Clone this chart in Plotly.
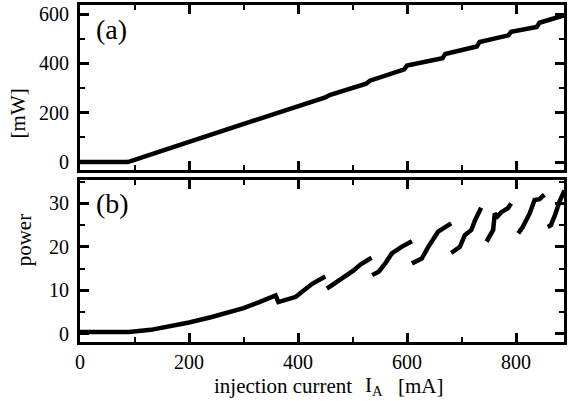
import plotly.graph_objects as go
from plotly.subplots import make_subplots

# ---- data ----
# (a) output power [mW] vs injection current [mA]
top_current = [0, 88, 150, 219, 300, 360, 450, 458, 525, 532, 595, 600, 665, 670,
               728, 733, 786, 791, 838, 843, 890]
top_power = [0, 0, 46, 97, 156, 198, 262, 272, 318, 330, 376, 392, 421, 438,
             469, 487, 514, 528, 548, 565, 596]

# (b) power vs injection current, branches separated by mode hops
seg1_x = [0, 90, 130, 170, 200, 240, 274, 300, 329, 359, 364, 396, 426, 450]
seg1_y = [0.4, 0.4, 0.9, 1.8, 2.6, 3.8, 5.0, 5.9, 7.3, 8.8, 7.3, 8.5, 11.5, 13.2]
seg2_x = [453, 470, 485, 495, 502, 515, 535]
seg2_y = [10.4, 11.8, 13.3, 14.0, 14.6, 16.0, 17.5]
seg3_x = [536, 548, 560, 572, 590, 609]
seg3_y = [13.5, 14.3, 16.2, 18.5, 20.0, 21.3]
seg4_x = [609, 627, 639, 657, 681]
seg4_y = [16.2, 17.3, 20.0, 23.5, 25.4]
seg5_x = [681, 697, 706, 718, 725, 731, 736]
seg5_y = [18.6, 20.0, 22.7, 23.9, 26.2, 28.0, 29.0]
seg6_x = [746, 752, 758, 761, 766, 773, 785, 791]
seg6_y = [21.2, 22.5, 23.9, 27.7, 27.0, 28.0, 28.9, 30.0]
seg7_x = [804, 812, 825, 834, 843, 852]
seg7_y = [23.1, 24.5, 27.7, 30.8, 31.0, 32.0]
seg8_x = [858, 864, 872, 880, 889]
seg8_y = [24.6, 25.0, 27.5, 30.5, 33.0]

b_segments_x = [seg1_x, seg2_x, seg3_x, seg4_x, seg5_x, seg6_x, seg7_x, seg8_x]
b_segments_y = [seg1_y, seg2_y, seg3_y, seg4_y, seg5_y, seg6_y, seg7_y, seg8_y]

# ---- figure ----
W, H = 568, 401
ml, mr, mt, mb = 80, 1, 5, 59
ph = H - mt - mb
pw = W - ml - mr

fig = make_subplots(rows=2, cols=1, shared_xaxes=False)
fig.add_trace(go.Scatter(x=top_current, y=top_power, mode="lines",
                         line=dict(color="black", width=4.5),
                         showlegend=False), row=1, col=1)
bx, by = [], []
for sx, sy in zip(b_segments_x, b_segments_y):
    bx += sx + [None]
    by += sy + [None]
fig.add_trace(go.Scatter(x=bx, y=by, mode="lines", connectgaps=False,
                         line=dict(color="black", width=4.5),
                         showlegend=False), row=2, col=1)

SERIF = "Liberation Serif"
font = dict(family=SERIF, size=20, color="black")
label_font = dict(family=SERIF, size=21, color="black")
axis_common = dict(showline=True, linecolor="black", linewidth=3, mirror="allticks",
                   ticks="inside", ticklen=9, tickwidth=2.5, tickcolor="black",
                   showgrid=False, zeroline=False, tickfont=font,
                   minor=dict(ticks="inside", ticklen=5, tickwidth=2, tickcolor="black"))

top_dom = [(ph - 165) / ph, 1.0]
bot_dom = [0.0, 162 / ph]

fig.update_xaxes(range=[0, 888], dtick=200, tick0=0, **axis_common)
fig.update_xaxes(showticklabels=False, row=1, col=1)
fig.update_xaxes(minor_dtick=100, row=1, col=1)
fig.update_xaxes(minor_dtick=100, ticklabelstandoff=0, row=2, col=1)
fig.update_yaxes(ticklabelstandoff=4, **axis_common)
fig.update_yaxes(range=[-32, 637], dtick=200, tick0=0, minor_dtick=100,
                 domain=top_dom, row=1, col=1)
fig.update_yaxes(range=[-1.9, 35.4], dtick=10, tick0=0, minor_dtick=5,
                 domain=bot_dom, row=2, col=1)
fig.update_xaxes(domain=[0, 1])

def px_x(x):
    return (x - ml) / pw

def px_y(y):
    return (H - mb - y) / ph

fig.add_annotation(text="(a)", xref="paper", yref="paper", x=px_x(94), y=px_y(29),
                   xanchor="left", yanchor="middle", showarrow=False,
                   font=dict(family=SERIF, size=28, color="black"))
fig.add_annotation(text="(b)", xref="paper", yref="paper", x=px_x(94), y=px_y(203),
                   xanchor="left", yanchor="middle", showarrow=False,
                   font=dict(family=SERIF, size=28, color="black"))
fig.add_annotation(text="[mW]", xref="paper", yref="paper", x=px_x(18),
                   y=px_y(113), textangle=-90, showarrow=False,
                   xanchor="center", yanchor="middle", font=label_font)
fig.add_annotation(text="power", xref="paper", yref="paper", x=px_x(24),
                   y=px_y(240), textangle=-90, showarrow=False,
                   xanchor="center", yanchor="middle", font=label_font)
fig.add_annotation(text="injection current", xref="paper", yref="paper",
                   x=px_x(284), y=px_y(386), showarrow=False,
                   xanchor="center", yanchor="middle", font=label_font)
fig.add_annotation(text="I<sub>A</sub>", xref="paper", yref="paper",
                   x=px_x(365), y=px_y(386), showarrow=False,
                   xanchor="left", yanchor="middle", font=label_font)
fig.add_annotation(text="[mA]", xref="paper", yref="paper",
                   x=px_x(423), y=px_y(386), showarrow=False,
                   xanchor="center", yanchor="middle", font=label_font)

fig.update_layout(width=W, height=H, margin=dict(l=ml, r=mr, t=mt, b=mb),
                  plot_bgcolor="white", paper_bgcolor="white", font=font)

fig.write_html("out.html", config={"displayModeBar": False},
               post_script="document.body.style.margin='0';")
